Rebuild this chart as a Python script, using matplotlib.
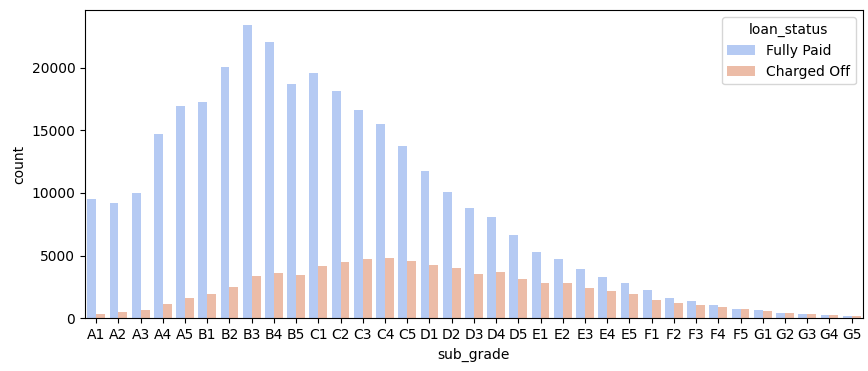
import matplotlib
matplotlib.use("Agg")
import matplotlib.pyplot as plt
import seaborn as sns
import pandas as pd

sub_grades = ["A1", "A2", "A3", "A4", "A5", "B1", "B2", "B3", "B4", "B5",
              "C1", "C2", "C3", "C4", "C5", "D1", "D2", "D3", "D4", "D5",
              "E1", "E2", "E3", "E4", "E5", "F1", "F2", "F3", "F4", "F5",
              "G1", "G2", "G3", "G4", "G5"]
fully_paid = [9490, 9170, 9960, 14730, 16960, 17280, 20060, 23400, 22050, 18710,
              19580, 18150, 16640, 15530, 13780, 11790, 10040, 8770, 8060, 6630,
              5270, 4720, 3920, 3290, 2810, 2250, 1620, 1380, 1060, 740,
              660, 420, 345, 265, 185]
charged_off = [345, 500, 660, 1140, 1620, 1935, 2490, 3370, 3600, 3450,
               4160, 4480, 4720, 4800, 4560, 4240, 4000, 3520, 3680, 3130,
               2810, 2810, 2410, 2170, 1930, 1460, 1220, 1060, 900, 740,
               580, 424, 345, 265, 185]

df = pd.DataFrame({
    "sub_grade": sub_grades * 2,
    "count": fully_paid + charged_off,
    "loan_status": ["Fully Paid"] * len(sub_grades) + ["Charged Off"] * len(sub_grades),
})

fig, ax = plt.subplots(figsize=(8.68, 3.71), dpi=100)
fig.subplots_adjust(left=0.098, right=0.994, top=0.972, bottom=0.142)
sns.barplot(data=df, x="sub_grade", y="count", hue="loan_status",
            order=sub_grades, hue_order=["Fully Paid", "Charged Off"],
            palette="coolwarm", ax=ax)
ax.legend(title="loan_status", loc="upper right")
fig.savefig("out.png", dpi=100)
